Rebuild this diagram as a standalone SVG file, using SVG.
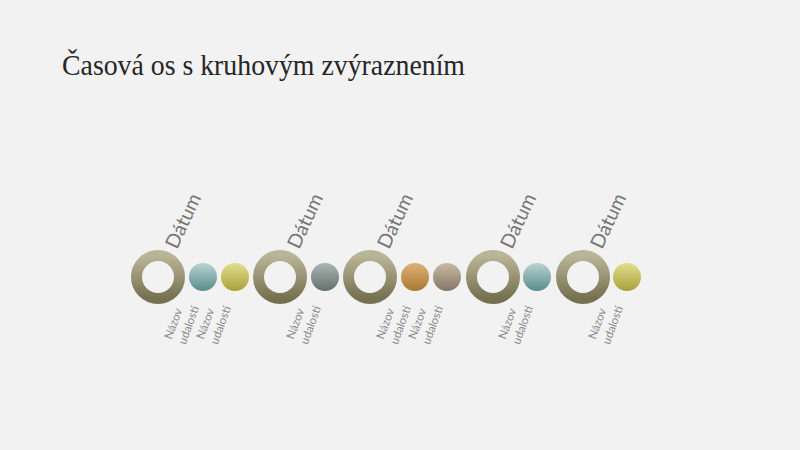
<svg xmlns="http://www.w3.org/2000/svg" width="800" height="450" viewBox="0 0 800 450">
<defs>
<linearGradient id="gRing" x1="0" y1="0" x2="0" y2="1"><stop offset="0" stop-color="#b9b597"/><stop offset="1" stop-color="#75714f"/></linearGradient>
<linearGradient id="gTeal" x1="0" y1="0" x2="0" y2="1"><stop offset="0" stop-color="#b9d3d3"/><stop offset="1" stop-color="#5a8c8c"/></linearGradient>
<linearGradient id="gYel" x1="0" y1="0" x2="0" y2="1"><stop offset="0" stop-color="#e2de8e"/><stop offset="1" stop-color="#a9a03a"/></linearGradient>
<linearGradient id="gGrey" x1="0" y1="0" x2="0" y2="1"><stop offset="0" stop-color="#a9b6b2"/><stop offset="1" stop-color="#64706c"/></linearGradient>
<linearGradient id="gOr" x1="0" y1="0" x2="0" y2="1"><stop offset="0" stop-color="#dcb374"/><stop offset="1" stop-color="#a97832"/></linearGradient>
<linearGradient id="gTaupe" x1="0" y1="0" x2="0" y2="1"><stop offset="0" stop-color="#c9baa3"/><stop offset="1" stop-color="#857664"/></linearGradient>
</defs>
<style>
.title{font-family:"Liberation Serif",serif;font-size:30px;fill:#262626}
.date{font-family:Lato,"Open Sans",sans-serif;font-size:19.5px;fill:#767676}
.ev{font-family:Lato,"Open Sans",sans-serif;font-size:11.5px;fill:#8a8a8a}
.ring{fill:none;stroke:url(#gRing);stroke-width:11}
</style>
<rect width="800" height="450" fill="#f2f2f2"/>
<text class="title" x="62" y="75" textLength="403" lengthAdjust="spacingAndGlyphs">Časová os s kruhovým zvýraznením</text>
<g id="connectors"/>
<g id="date1"><circle class="ring" cx="158" cy="277" r="21.5"/><text class="date" transform="translate(177,250) rotate(-65)">Dátum</text></g>
<g id="date2"><circle class="ring" cx="280" cy="277" r="21.5"/><text class="date" transform="translate(299,250) rotate(-65)">Dátum</text></g>
<g id="date3"><circle class="ring" cx="370" cy="277" r="21.5"/><text class="date" transform="translate(389,250) rotate(-65)">Dátum</text></g>
<g id="date4"><circle class="ring" cx="493" cy="277" r="21.5"/><text class="date" transform="translate(512,250) rotate(-65)">Dátum</text></g>
<g id="date5"><circle class="ring" cx="583" cy="277" r="21.5"/><text class="date" transform="translate(602,250) rotate(-65)">Dátum</text></g>
<g id="ev1"><circle cx="203" cy="277" r="14" fill="url(#gTeal)"/><text class="ev" transform="translate(171.5,340) rotate(-70)"><tspan x="0" y="0">Názov</tspan><tspan x="0" y="15">udalosti</tspan></text></g>
<g id="ev2"><circle cx="235" cy="277" r="14" fill="url(#gYel)"/><text class="ev" transform="translate(203.5,340) rotate(-70)"><tspan x="0" y="0">Názov</tspan><tspan x="0" y="15">udalosti</tspan></text></g>
<g id="ev3"><circle cx="325" cy="277" r="14" fill="url(#gGrey)"/><text class="ev" transform="translate(293.5,340) rotate(-70)"><tspan x="0" y="0">Názov</tspan><tspan x="0" y="15">udalosti</tspan></text></g>
<g id="ev4"><circle cx="415" cy="277" r="14" fill="url(#gOr)"/><text class="ev" transform="translate(383.5,340) rotate(-70)"><tspan x="0" y="0">Názov</tspan><tspan x="0" y="15">udalosti</tspan></text></g>
<g id="ev5"><circle cx="447" cy="277" r="14" fill="url(#gTaupe)"/><text class="ev" transform="translate(415.5,340) rotate(-70)"><tspan x="0" y="0">Názov</tspan><tspan x="0" y="15">udalosti</tspan></text></g>
<g id="ev6"><circle cx="537" cy="277" r="14" fill="url(#gTeal)"/><text class="ev" transform="translate(505.5,340) rotate(-70)"><tspan x="0" y="0">Názov</tspan><tspan x="0" y="15">udalosti</tspan></text></g>
<g id="ev7"><circle cx="627" cy="277" r="14" fill="url(#gYel)"/><text class="ev" transform="translate(595.5,340) rotate(-70)"><tspan x="0" y="0">Názov</tspan><tspan x="0" y="15">udalosti</tspan></text></g>
</svg>
